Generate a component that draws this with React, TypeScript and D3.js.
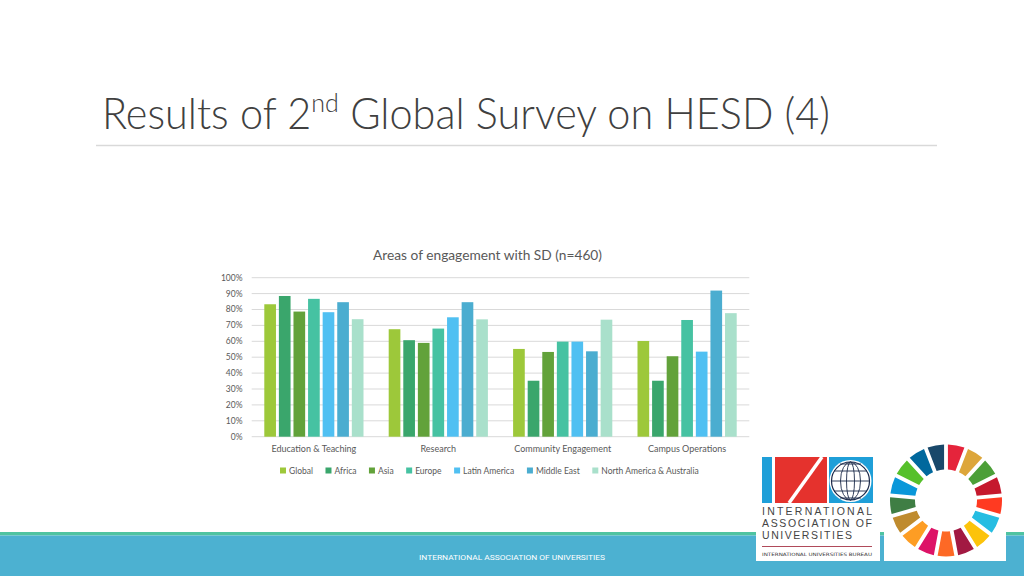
import React from "react";
import * as d3 from "d3";

const categories = ["Education & Teaching", "Research", "Community Engagement", "Campus Operations"];
const seriesNames = ["Global", "Africa", "Asia", "Europe", "Latin America", "Middle East", "North America & Australia"];
const globalVals = [83.3, 67.6, 55.2, 60.2];
const africaVals = [88.5, 60.7, 35.2, 35.2];
const asiaVals = [78.7, 59.0, 53.3, 50.6];
const europeVals = [86.7, 68.0, 59.8, 73.4];
const latinAmericaVals = [78.3, 75.1, 59.8, 53.5];
const middleEastVals = [84.6, 84.6, 53.7, 91.9];
const northAmericaVals = [73.9, 73.8, 73.6, 77.7];
const yTicks = [0, 10, 20, 30, 40, 50, 60, 70, 80, 90, 100];

const seriesValues = [globalVals, africaVals, asiaVals, europeVals, latinAmericaVals, middleEastVals, northAmericaVals];
const seriesColors = ["#9DC83A", "#3AA66C", "#62A23A", "#46C2A2", "#50C0F2", "#4BADD0", "#A9E0CB"];
const sdgColors = ["#E5243B", "#DDA63A", "#4C9F38", "#C5192D", "#FF3A21", "#26BDE2", "#FCC30B", "#A21942", "#FD6925", "#DD1367", "#FD9D24", "#BF8B2E", "#3F7E44", "#0A97D9", "#56C02B", "#00689D", "#19486A"];

function measure(text: string, font: string): number {
  const c = document.createElement("canvas");
  const ctx = c.getContext("2d");
  if (!ctx) return text.length * 5;
  ctx.font = font;
  return ctx.measureText(text).width;
}

export default function App() {
  const left = 251.7, right = 749.3, top = 277.7, bottom = 436.7;
  const x0 = d3.scaleBand<string>().domain(categories).range([left, right]);
  const step = x0.bandwidth();
  const x1 = d3.scaleBand<string>().domain(seriesNames).range([12.6, step - 12.6]).paddingInner(0.2);
  const y = d3.scaleLinear().domain([0, 100]).range([bottom, top]);

  const smallFont = "Lato, 'Open Sans', sans-serif";
  // legend layout
  const legendSize = 8.5;
  const legendFont = `${legendSize}px Lato`;
  let lx = 280;
  const legendItems = seriesNames.map((s, i) => {
    const item = { s, x: lx, color: seriesColors[i] };
    lx += 6 + 3 + measure(s, legendFont) + 12.5;
    return item;
  });

  const arc = d3.arc<any>().innerRadius(31).outerRadius(56).padAngle(0.06);
  const n = sdgColors.length;

  return (
    <svg width={1024} height={576} style={{ position: "absolute", left: 0, top: 0, background: "#fff" }}
      fontFamily={smallFont}>
      <rect x={0} y={0} width={1024} height={576} fill="#fff" />
      {/* Slide title */}
      <text x={102} y={129} fontSize={43} fontWeight={300} fill="#404040" textLength={728} lengthAdjust="spacingAndGlyphs">
        <tspan>Results of 2</tspan>
        <tspan fontSize={26} dy={-17}>nd</tspan>
        <tspan dy={17}> Global Survey on HESD (4)</tspan>
      </text>
      <line x1={96} x2={937} y1={145.5} y2={145.5} stroke="#d9d9d9" strokeWidth={1.5} />

      {/* Chart title */}
      <text x={487.5} y={260} textAnchor="middle" fontSize={12.5} fill="#595959" textLength={229} lengthAdjust="spacingAndGlyphs">
        Areas of engagement with SD (n=460)
      </text>

      {/* Gridlines & y labels */}
      {yTicks.map((t) => (
        <g key={t}>
          <line x1={left} x2={right} y1={y(t)} y2={y(t)} stroke="#d9d9d9" strokeWidth={1} />
          <text x={242.5} y={y(t)} dy="0.35em" textAnchor="end" fontSize={8.5} fill="#595959">{t}%</text>
        </g>
      ))}

      {/* Bars */}
      {categories.map((c, ci) => (
        <g key={c} transform={`translate(${x0(c)},0)`}>
          {seriesNames.map((s, si) => (
            <rect key={s} x={x1(s)} y={y(seriesValues[si][ci])} width={x1.bandwidth()}
              height={bottom - y(seriesValues[si][ci])} fill={seriesColors[si]} />
          ))}
        </g>
      ))}

      {/* Category labels */}
      {categories.map((c) => (
        <text key={c} x={(x0(c) as number) + step / 2} y={452} textAnchor="middle" fontSize={9} fill="#595959">{c}</text>
      ))}

      {/* Legend */}
      {legendItems.map((it) => (
        <g key={it.s}>
          <rect x={it.x} y={467.5} width={6} height={6} fill={it.color} />
          <text x={it.x + 9} y={473.5} fontSize={legendSize} fill="#595959">{it.s}</text>
        </g>
      ))}

      {/* Footer */}
      <rect x={0} y={532} width={1024} height={3.5} fill="#4FC3A1" />
      <rect x={0} y={535.5} width={1024} height={41} fill="#4CB1D1" />
      <text x={512} y={560} textAnchor="middle" fontSize={8} fill="#ffffff" fontFamily="'Liberation Sans Narrow', Roboto, sans-serif"
        textLength={186} lengthAdjust="spacingAndGlyphs">INTERNATIONAL ASSOCIATION OF UNIVERSITIES</text>

      {/* IAU logo */}
      <g>
        <rect x={756} y={445} width={124} height={116} fill="#fff" />
        <rect x={762} y={457} width={10} height={46} fill="#1F9FD8" />
        <rect x={775} y={457} width={52} height={46} fill="#E5322D" />
        <line x1={822} y1={457} x2={789} y2={503} stroke="#fff" strokeWidth={3.5} />
        <path d="M829,457 H873 V503 H829 Z" fill="#1F9FD8" />
        <circle cx={850.5} cy={481} r={21} fill="#fff" />
        <circle cx={850.5} cy={481} r={19} fill="none" stroke="#1c2a4a" strokeWidth={1.2} />
        <ellipse cx={850.5} cy={481} rx={10} ry={19} fill="none" stroke="#1c2a4a" strokeWidth={0.9} />
        <ellipse cx={850.5} cy={481} rx={4} ry={19} fill="none" stroke="#1c2a4a" strokeWidth={0.9} />
        <line x1={831.5} x2={869.5} y1={481} y2={481} stroke="#1c2a4a" strokeWidth={0.9} />
        <line x1={834} x2={867} y1={471} y2={471} stroke="#1c2a4a" strokeWidth={0.9} />
        <line x1={834} x2={867} y1={491} y2={491} stroke="#1c2a4a" strokeWidth={0.9} />
        <line x1={840} x2={861} y1={464} y2={464} stroke="#1c2a4a" strokeWidth={0.9} />
        <line x1={840} x2={861} y1={498} y2={498} stroke="#1c2a4a" strokeWidth={0.9} />
        <text x={762} y={515} fontSize={10.5} fill="#444" fontFamily="'Liberation Sans', sans-serif" textLength={110} lengthAdjust="spacing">INTERNATIONAL</text>
        <text x={762} y={527} fontSize={10.5} fill="#444" fontFamily="'Liberation Sans', sans-serif" textLength={110} lengthAdjust="spacing">ASSOCIATION OF</text>
        <text x={762} y={539} fontSize={10.5} fill="#444" fontFamily="'Liberation Sans', sans-serif" textLength={90} lengthAdjust="spacing">UNIVERSITIES</text>
        <line x1={762} x2={872} y1={546.5} y2={546.5} stroke="#B04A5A" strokeWidth={1.2} />
        <text x={762} y={556} fontSize={4.5} fill="#333" fontFamily="'DejaVu Sans', sans-serif" textLength={110} lengthAdjust="spacingAndGlyphs">INTERNATIONAL UNIVERSITIES BUREAU</text>
      </g>

      {/* SDG wheel */}
      <g>
        <rect x={884} y={438} width={122} height={123} fill="#fff" />
        <g transform="translate(946,500.5)">
          {sdgColors.map((col, i) => (
            <path key={i} d={arc({ startAngle: (i * 2 * Math.PI) / n, endAngle: ((i + 1) * 2 * Math.PI) / n }) as string} fill={col} />
          ))}
        </g>
      </g>
    </svg>
  );
}
